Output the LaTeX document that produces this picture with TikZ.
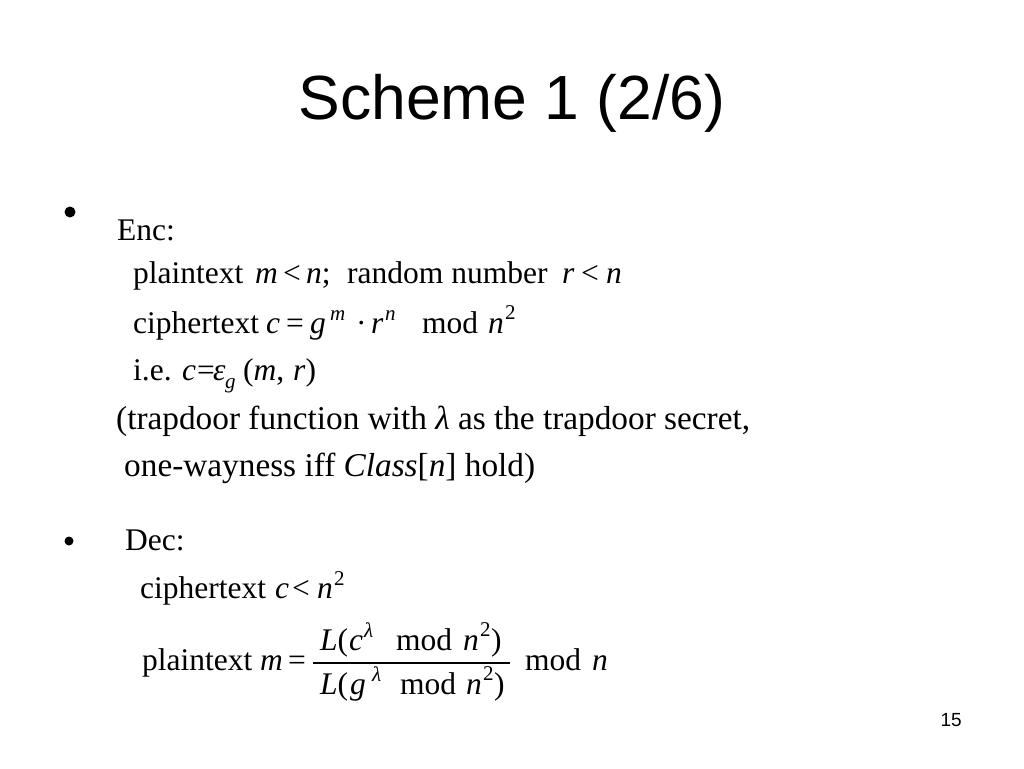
\documentclass[tikz,border=0pt]{standalone}
\usepackage{fontspec}
\setmainfont{Liberation Serif}
\newfontfamily\titlefont{Liberation Sans}
\newcommand{\mi}[1]{\textit{#1}}
\begin{document}
\begin{tikzpicture}[x=1pt,y=-1pt,
  body/.style={anchor=base west, inner sep=0pt, font=\fontsize{31.5}{36}\selectfont},
  wide/.style={anchor=base west, inner sep=0pt, font=\fontsize{33.3}{38}\selectfont},
  supi/.style={anchor=base west, inner sep=0pt, font=\fontsize{21}{24}\selectfont\itshape},
  supr/.style={anchor=base west, inner sep=0pt, font=\fontsize{21}{24}\selectfont},
  titletext/.style={anchor=base, inner sep=0pt, font=\titlefont\fontsize{62.4}{70}\selectfont},
  pagenum/.style={anchor=base east, inner sep=0pt, font=\titlefont\fontsize{19}{22}\selectfont},
  bulletdot/.style={fill=black, draw=none},
  fracbar/.style={line width=1.5pt}]
\useasboundingbox (0,0) rectangle (1024,768);
\fill[white] (0,0) rectangle (1024,768);

% title
\node[titletext] (title) at (512,119) {Scheme 1 (2/6)};

% --- Enc ---
\fill[bulletdot] (70,212) circle (5.5);
\node[body] (enc) at (117,240) {Enc:};

% line 1
\node[body] (a1) at (133,283) {plaintext};
\node[body] (a2) at (255,283) {\mi{m}};
\node[body] (a3) at (283,283) {<};
\node[body] (a4) at (306,283) {\mi{n};};
\node[body] (a5) at (347,283) {random number};
\node[body] (a6) at (562,283) {\mi{r}};
\node[body] (a7) at (581,283) {<};
\node[body] (a8) at (606,283) {\mi{n}};

% line 2
\node[body] (b1) at (133,333) {ciphertext};
\node[body] (b2) at (266,333) {\mi{c}};
\node[body] (b3) at (286,333) {=};
\node[body] (b4) at (310,333) {\mi{g}};
\node[supi] (b5) at (330,320) {m};
\node[body] (b6) at (356,333) {·};
\node[body] (b7) at (371,333) {\mi{r}};
\node[supi] (b8) at (385,320) {n};
\node[body] (b9) at (422,333) {mod};
\node[body] (b10) at (488,333) {\mi{n}};
\node[supr] (b11) at (505,319) {2};

% line 3
\node[body] (c1) at (133,380) {i.e.};
\node[body] (c2) at (182,380) {\mi{c}};
\node[body] (c3) at (197,380) {=};
\node[body] (c4) at (213,380) {\mi{ε}};
\node[supi] (c5) at (225,388) {g};
\node[body] (c6) at (243,380) {(\mi{m},};
\node[body] (c7) at (293,380) {\mi{r})};

% remark
\node[wide] (d1) at (116,429) {(trapdoor function with \mi{λ} as the trapdoor secret,};
\node[wide] (d2) at (124,476) {one-wayness iff \mi{Class}[\mi{n}] hold)};

% --- Dec ---
\fill[bulletdot] (69,541) circle (4.5);
\node[body] (dec) at (125,550) {Dec:};

% ciphertext c < n^2
\node[body] (e1) at (140,598) {ciphertext};
\node[body] (e2) at (275,598) {\mi{c}};
\node[body] (e3) at (292,598) {<};
\node[body] (e4) at (317,598) {\mi{n}};
\node[supr] (e5) at (334,585) {2};

% plaintext m = fraction mod n
\node[body] (f1) at (142,670) {plaintext};
\node[body] (f2) at (260,670) {\mi{m}};
\node[body] (f3) at (288,670) {=};
% numerator
\node[body] (n1) at (320,650) {\mi{L}(};
\node[body] (n2) at (349,650) {\mi{c}};
\node[supi] (n3) at (364,637) {λ};
\node[body] (n4) at (396,650) {mod};
\node[body] (n5) at (463,650) {\mi{n}};
\node[supr] (n6) at (480,636) {2};
\node[body] (n7) at (491,650) {)};
% denominator
\node[body] (g1) at (320,694) {\mi{L}(};
\node[body] (g2) at (350,694) {\mi{g}};
\node[supi] (g3) at (372,681) {λ};
\node[body] (g4) at (400,694) {mod};
\node[body] (g5) at (466,694) {\mi{n}};
\node[supr] (g6) at (483,680) {2};
\node[body] (g7) at (494,694) {)};
\coordinate (barL) at (313,663);
\coordinate (barR) at (510,663);
\draw[fracbar] (barL) -- (barR);
\node[body] (h1) at (525,670) {mod};
\node[body] (h2) at (592,670) {\mi{n}};

% page number
\node[pagenum] (pg) at (962,726) {15};
\end{tikzpicture}
\end{document}
